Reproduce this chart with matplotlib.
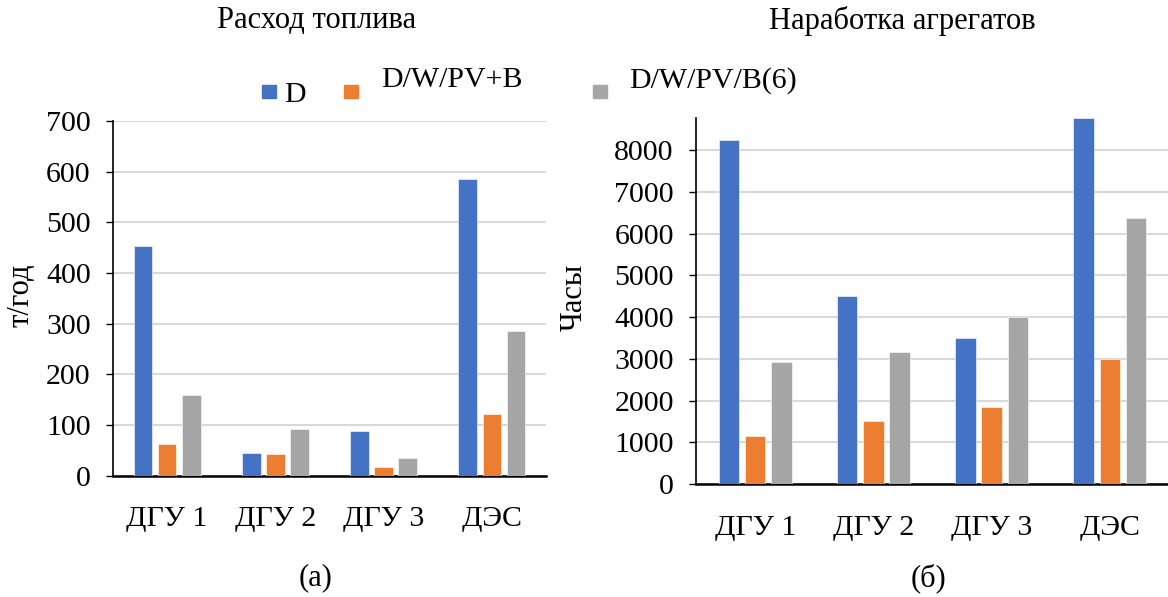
import matplotlib
matplotlib.use('Agg')
import matplotlib.pyplot as plt
import numpy as np
from matplotlib.patches import Rectangle

plt.rcParams['font.family'] = ['Liberation Serif', 'DejaVu Serif']

categories = ['ДГУ 1', 'ДГУ 2', 'ДГУ 3', 'ДЭС']
series = ['D', 'D/W/PV+B', 'D/W/PV/B(6)']
colors = ['#4472C4', '#ED7D31', '#A5A5A5']

# расход топлива, т/год
fuel_d = [454, 44, 87, 586]
fuel_wpvb = [63, 42, 16, 121]
fuel_b6 = [159, 91, 34, 285]

# наработка, часы
hours_d = [8240, 4500, 3500, 8760]
hours_wpvb = [1160, 1510, 1850, 2990]
hours_b6 = [2915, 3155, 4010, 6370]

W, H = 1168, 597
fig = plt.figure(figsize=(W / 100, H / 100), dpi=100)

def px(x0, y_top, x1, y_bot):
    return [x0 / W, 1 - y_bot / H, (x1 - x0) / W, (y_bot - y_top) / H]

ax1 = fig.add_axes(px(113, 121, 546, 475.5))
ax2 = fig.add_axes(px(696, 118.3, 1169, 484))

x = np.arange(len(categories))
offs = [-0.222, 0, 0.222]
bw = 0.173

def draw(ax, data, ymax, step):
    for i, vals in enumerate(data):
        ax.bar(x + offs[i], vals, bw, color=colors[i], edgecolor='white',
               linewidth=0.4, zorder=3)
    ax.set_xlim(-0.5, 3.5)
    ax.set_ylim(0, ymax)
    ax.set_yticks(np.arange(0, ymax + 1, step))
    ax.set_xticks(x)
    ax.set_xticklabels(categories)
    ax.grid(axis='y', color='#d9d9d9', linewidth=1.5, zorder=0)
    ax.set_axisbelow(True)
    for s in ['top', 'right']:
        ax.spines[s].set_visible(False)
    ax.spines['left'].set_linewidth(1.2)
    ax.spines['bottom'].set_linewidth(1.8)
    ax.tick_params(axis='y', labelsize=21.5, length=5, width=1, pad=11)
    ax.tick_params(axis='x', labelsize=21.5, length=0, pad=22)

draw(ax1, [fuel_d, fuel_wpvb, fuel_b6], 700, 100)
draw(ax2, [hours_d, hours_wpvb, hours_b6], 8760, 1000)

fs = 22
fig.text(317 / W, 1 - 21 / H, 'Расход топлива', ha='center', va='center', fontsize=fs)
fig.text(902 / W, 1 - 21 / H, 'Наработка агрегатов', ha='center', va='center', fontsize=fs)
fig.text(316 / W, 1 - 578 / H, '(а)', ha='center', va='center', fontsize=fs)
fig.text(928 / W, 1 - 578 / H, '(б)', ha='center', va='center', fontsize=fs)
fig.text(21 / W, 1 - 295 / H, 'т/год', ha='center', va='center', rotation=90, fontsize=fs)
fig.text(574 / W, 1 - 297 / H, 'Часы', ha='center', va='center', rotation=90, fontsize=fs)

# легенда
sq_x = [262, 344, 593]
txt_x = [284, 381, 629]
txt_base = [102, 87, 88]
for i in range(3):
    fig.patches.append(Rectangle((sq_x[i] / W, 1 - 98 / H), 14 / W, 13 / H,
                                 transform=fig.transFigure, color=colors[i]))
    fig.text(txt_x[i] / W, 1 - txt_base[i] / H, series[i], ha='left',
             va='baseline', fontsize=21.5)

plt.savefig('out.png', dpi=100)
